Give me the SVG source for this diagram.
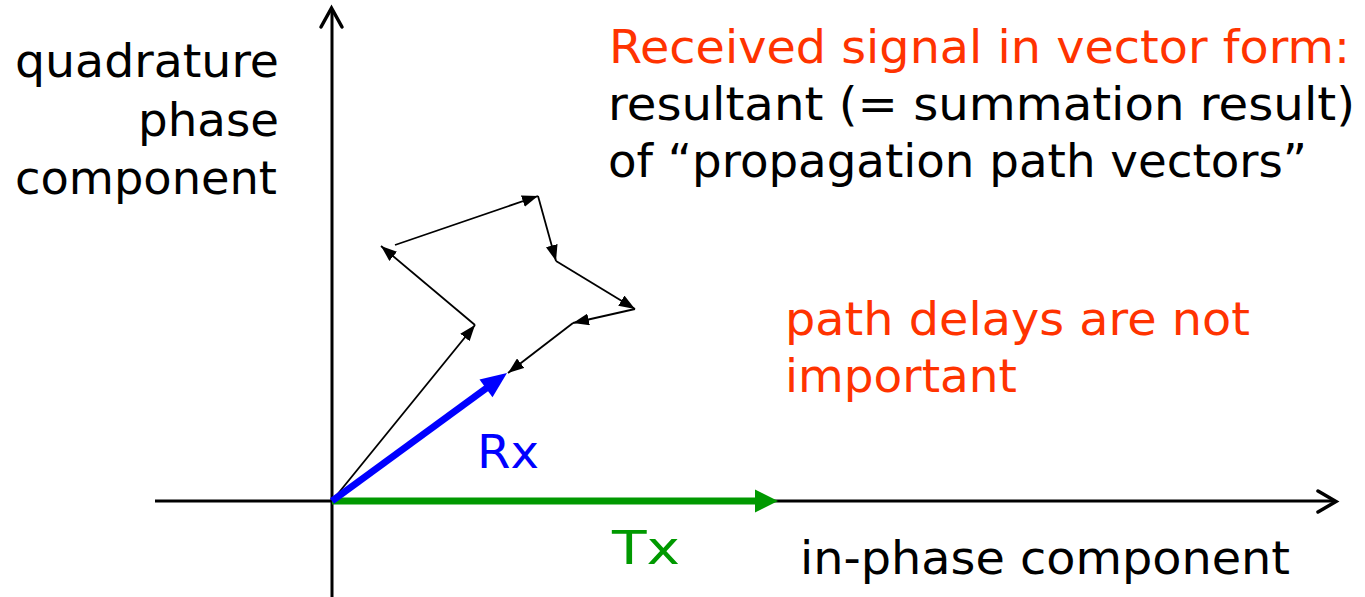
<svg xmlns="http://www.w3.org/2000/svg" width="1365" height="597" viewBox="0 0 1365 597">
<style>
text{font-family:"DejaVu Sans","Verdana","Liberation Sans",sans-serif;font-size:46px}
.blk{fill:#000}
.red{fill:#FF3300}
.axis{stroke:#000;stroke-width:3;fill:none}
.chev{stroke:#000;stroke-width:3.5;fill:none;stroke-linecap:round;stroke-linejoin:miter}
.path{stroke:#000;stroke-width:1.8;fill:none;marker-end:url(#ah)}
</style>
<defs>
<marker id="ah" markerUnits="userSpaceOnUse" markerWidth="16" markerHeight="12" refX="16" refY="6" orient="auto">
<path d="M0,0 L16,6 L0,12 z" fill="#000"/>
</marker>
</defs>
<rect width="1365" height="597" fill="#fff"/>
<g id="axes">
<line class="axis" x1="332" y1="597" x2="332" y2="9"/>
<polyline class="chev" points="321,27 331.5,8 342,27"/>
<line class="axis" x1="155" y1="501" x2="1335" y2="501"/>
<polyline class="chev" points="1318,491 1336,501.5 1318,512"/>
</g>
<g id="connectors">
<line class="path" x1="332" y1="501" x2="475" y2="325"/>
<line class="path" x1="475" y1="325" x2="381" y2="246"/>
<line class="path" x1="395" y1="245" x2="538" y2="196"/>
<line class="path" x1="538" y1="196" x2="556" y2="261"/>
<line class="path" x1="556" y1="261" x2="635" y2="309"/>
<line class="path" x1="635" y1="309" x2="573" y2="323"/>
<line class="path" x1="573" y1="323" x2="508" y2="373"/>
</g>
<g id="tx">
<line x1="332" y1="501" x2="758" y2="501" stroke="#009900" stroke-width="7"/>
<polygon points="778,501 755,489.5 755,512.5" fill="#009900"/>
<text x="612" y="564" fill="#009900" font-size="50" textLength="68" lengthAdjust="spacingAndGlyphs">Tx</text>
</g>
<g id="rx">
<line x1="332" y1="501" x2="488" y2="387" stroke="#0000FF" stroke-width="7"/>
<polygon points="507,373 492.5,397.2 479.5,379.4" fill="#0000FF"/>
<text x="477" y="468" fill="#0000FF" font-size="50" textLength="62" lengthAdjust="spacingAndGlyphs">Rx</text>
</g>
<g id="yLabel">
<text class="blk" x="279" y="77" text-anchor="end" textLength="264" lengthAdjust="spacingAndGlyphs">quadrature</text>
<text class="blk" x="279" y="136" text-anchor="end" textLength="141" lengthAdjust="spacingAndGlyphs">phase</text>
<text class="blk" x="277" y="194" text-anchor="end" textLength="262" lengthAdjust="spacingAndGlyphs">component</text>
</g>
<g id="xLabel">
<text class="blk" x="800" y="574" textLength="490" lengthAdjust="spacingAndGlyphs">in-phase component</text>
</g>
<g id="title">
<text class="red" x="609" y="63" textLength="741" lengthAdjust="spacingAndGlyphs">Received signal in vector form:</text>
<text class="blk" x="608" y="120" textLength="747" lengthAdjust="spacingAndGlyphs">resultant (= summation result)</text>
<text class="blk" x="608" y="177" textLength="699" lengthAdjust="spacingAndGlyphs">of “propagation path vectors”</text>
</g>
<g id="note">
<text class="red" x="785" y="335" textLength="465" lengthAdjust="spacingAndGlyphs">path delays are not</text>
<text class="red" x="785" y="392" textLength="232" lengthAdjust="spacingAndGlyphs">important</text>
</g>
</svg>
